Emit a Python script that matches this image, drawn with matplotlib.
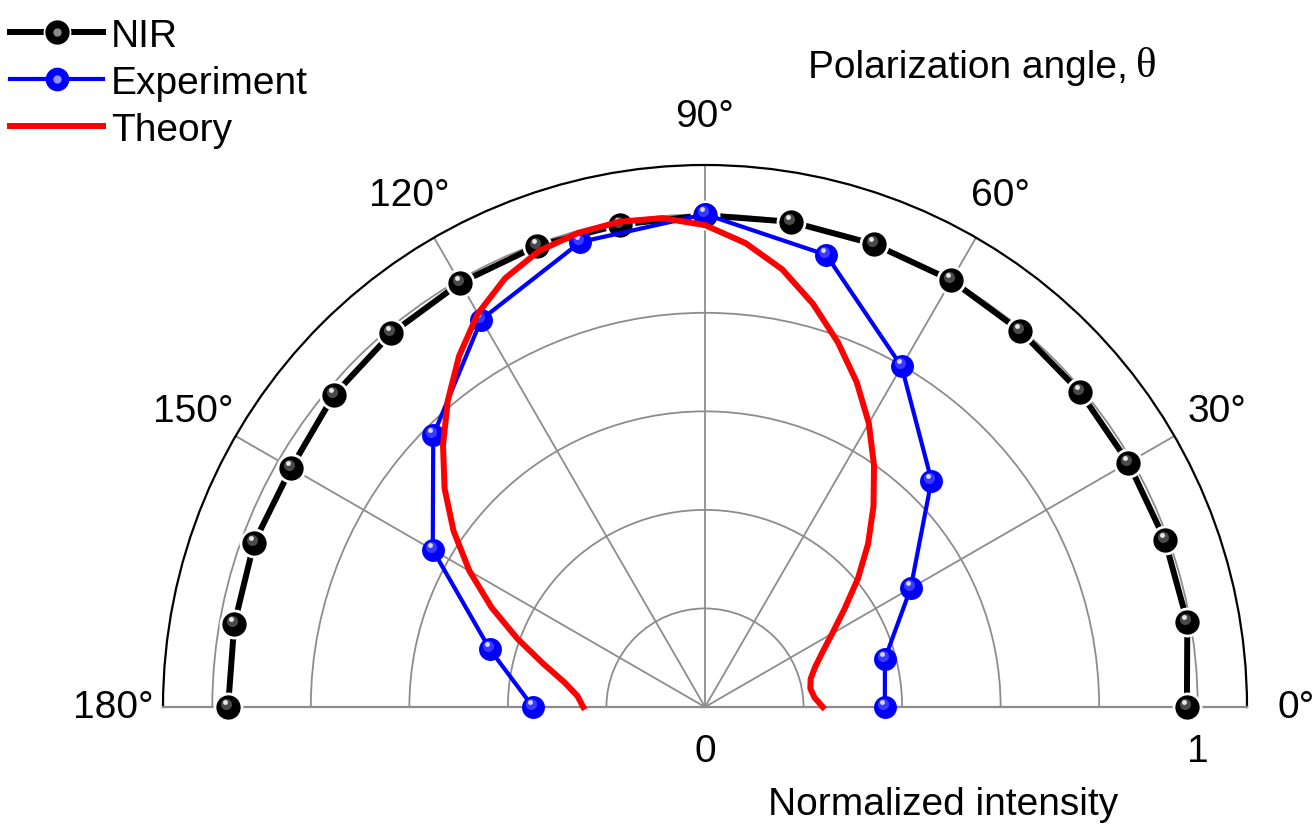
import numpy as np
import matplotlib
matplotlib.use("Agg")
import matplotlib.pyplot as plt
from matplotlib import transforms
from matplotlib.lines import Line2D
from matplotlib.legend_handler import HandlerTuple

plt.rcParams['font.family'] = ['Liberation Sans', 'DejaVu Sans']

# NIR reference, every 10 degrees
nir_deg = [0, 10, 20, 30, 40, 50, 60, 70, 80, 90, 100, 110, 120, 130, 140, 150, 160, 170, 180]
nir_r = [0.978, 0.994, 0.993, 0.992, 0.994, 0.996, 1.0, 1.0, 1.0, 0.998, 0.994, 0.996,
         0.994, 0.99, 0.984, 0.97, 0.974, 0.97, 0.968]

# measured points, every 15 degrees
exp_deg = [0, 15, 30, 45, 60, 75, 90, 105, 120, 135, 150, 165, 180]
exp_r = [0.365, 0.378, 0.482, 0.65, 0.798, 0.95, 1.0, 0.977, 0.908, 0.78, 0.638, 0.452, 0.349]

# theory curve
th_deg = [0, 5, 10, 15, 20, 25, 30, 35, 40, 45, 50, 55, 60, 65, 70, 75, 80, 85, 90,
          95, 100, 105, 110, 115, 120, 125, 130, 135, 140, 145, 150, 155, 160, 165,
          170, 175, 180]
th_r = [0.239, 0.223, 0.217, 0.222, 0.238, 0.263, 0.298, 0.345, 0.405, 0.468, 0.532,
        0.598, 0.665, 0.728, 0.788, 0.847, 0.902, 0.945, 0.978, 0.996, 1.0, 0.996, 0.985,
        0.96, 0.922, 0.87, 0.812, 0.752, 0.69, 0.623, 0.552, 0.478, 0.405, 0.34, 0.29,
        0.26, 0.247]

theta_ticks = [0, 30, 60, 90, 120, 150, 180]
theta_labels = [f"{t}\u00b0" for t in theta_ticks]

FS = 28
W, H = 1316, 829
fig = plt.figure(figsize=(W / 100, H / 100), dpi=100)
# square box; the half disc (centre x=705, y=708 px, outer radius 542 px) sits in its middle
ax = fig.add_axes([163 / W, (H - 979) / H, 1084 / W, 1084 / H], projection='polar')
ax.set_thetamin(0)
ax.set_thetamax(180)
ax.set_rlim(0, 1.1)

grid_c = '#8c8c8c'
ax.set_thetagrids(theta_ticks, labels=theta_labels)
ax.tick_params(axis='x', direction='inout', length=17, width=1.2, colors='black',
               pad=20, labelsize=FS)
ax.xaxis.grid(True, color=grid_c, lw=1.3)

ax.set_yticks([0, 1])
ax.set_yticklabels(['0', '1'])
ax.set_yticks([0.2, 0.4, 0.6, 0.8], minor=True)
ax.yaxis.grid(True, which='both', color=grid_c, lw=1.3)
ax.tick_params(axis='y', which='major', direction='out', length=9, width=1.5,
               labelsize=FS, pad=10)
ax.tick_params(axis='y', which='minor', length=0)

ax.spines['polar'].set_color('black')
ax.spines['polar'].set_linewidth(1.6)
for s in ('start', 'end'):
    ax.spines[s].set_color(grid_c)
    ax.spines[s].set_linewidth(1.6)

hl1 = transforms.offset_copy(ax.transData, fig, x=-2, y=3, units='dots')
hl2 = transforms.offset_copy(ax.transData, fig, x=-3, y=5, units='dots')

# NIR: thick black line with gaps at the symbols
nt = np.deg2rad(nir_deg)
ax.plot(nt, nir_r, color='black', lw=4.3, zorder=3, clip_on=False)
ax.plot(nt, nir_r, ls='none', marker='o', ms=21.5, mfc='white', mec='none', zorder=3.1, clip_on=False)
ax.plot(nt, nir_r, ls='none', marker='o', ms=17.5, mfc='black', mec='none',
        zorder=3.2, clip_on=False)
ax.plot(nt, nir_r, ls='none', marker='o', ms=8, mfc='#4a4a4a', mec='none', zorder=3.3,
        transform=hl1, clip_on=False)
ax.plot(nt, nir_r, ls='none', marker='o', ms=3.5, mfc='#e6e6e6', mec='none', zorder=3.4,
        transform=hl2, clip_on=False)

# experiment
et = np.deg2rad(exp_deg)
ax.plot(et, exp_r, color='#0000ff', lw=3, marker='o', ms=16.5, mfc='#0000ff',
        mec='none', zorder=4, clip_on=False)
ax.plot(et, exp_r, ls='none', marker='o', ms=8, mfc='#3a3aff', mec='none', zorder=4.1,
        transform=hl1, clip_on=False)
ax.plot(et, exp_r, ls='none', marker='o', ms=3.5, mfc='#d8d8ff', mec='none', zorder=4.2,
        transform=hl2, clip_on=False)

# theory
ax.plot(np.deg2rad(th_deg), th_r, color='#ff0000', lw=4.3, zorder=5,
        solid_joinstyle='round', clip_on=False)

# legend handles
nir_h = (Line2D([], [], color='black', lw=4.3),
         Line2D([], [], ls='none', marker='o', ms=20, mfc='white', mec='none'),
         Line2D([], [], ls='none', marker='o', ms=17.5, mfc='black', mec='none'),
         Line2D([], [], ls='none', marker='o', ms=6, mfc='#8a8a8a', mec='none'))
exp_h = (Line2D([], [], color='#0000ff', lw=3),
         Line2D([], [], ls='none', marker='o', ms=17, mfc='#0000ff', mec='none'),
         Line2D([], [], ls='none', marker='o', ms=6, mfc='#9090ff', mec='none'))
th_h = Line2D([], [], color='#ff0000', lw=4.3)
fig.legend([nir_h, exp_h, th_h], ['NIR', 'Experiment', 'Theory'],
           handler_map={tuple: HandlerTuple(ndivide=1, pad=0)},
           loc='upper left', bbox_to_anchor=(10 / W, 1 - 19 / H), frameon=False,
           fontsize=FS, handlelength=2.4, handletextpad=0.2, labelspacing=0.28,
           borderpad=0, borderaxespad=0)

fig.text(808 / W, 1 - 68 / H, 'Polarization angle,', fontsize=FS, ha='left', va='center')
fig.text(1136 / W, 1 - 67 / H, '\u03b8', fontsize=31, ha='left', va='center',
         family=['Liberation Serif', 'DejaVu Serif'])
fig.text(943 / W, 1 - 805 / H, 'Normalized intensity', fontsize=FS, ha='center', va='center')

fig.savefig('out.png', dpi=100)
